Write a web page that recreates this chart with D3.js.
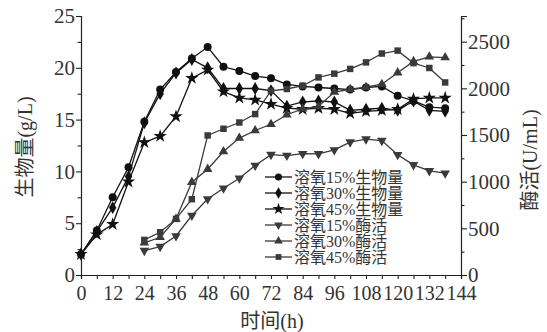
<!DOCTYPE html>
<html>
<head>
<meta charset="utf-8">
<script src="https://cdn.jsdelivr.net/npm/d3@7/dist/d3.min.js"></script>
<style>
  html, body { margin: 0; padding: 0; background: #fff; }
  svg { display: block; }
</style>
</head>
<body>
<svg id="chart" width="547" height="332"></svg>
<script>
// Sampling times (h)
const biomassHours = [0, 6, 12, 18, 24, 30, 36, 42, 48, 54, 60, 66, 72, 78, 84, 90, 96, 102, 108, 114, 120, 126, 132, 138];
const enzymeHours = [24, 30, 36, 42, 48, 54, 60, 66, 72, 78, 84, 90, 96, 102, 108, 114, 120, 126, 132, 138];

// Biomass (g/L) under dissolved oxygen 15%, 30%, 45%
const biomassDO15 = [2.0, 4.3, 7.5, 10.4, 14.8, 17.9, 19.6, 20.9, 22.0, 20.1, 19.7, 19.2, 19.0, 18.4, 18.2, 18.1, 18.0, 17.9, 18.1, 18.2, 17.3, 16.8, 16.2, 16.1];
const biomassDO30 = [2.0, 4.2, 6.5, 9.5, 14.7, 17.5, 19.5, 20.8, 20.0, 18.0, 18.0, 18.0, 17.8, 16.3, 16.7, 16.8, 16.7, 15.9, 16.0, 16.1, 15.9, 16.8, 15.9, 15.8];
const biomassDO45 = [2.0, 3.9, 4.9, 9.0, 12.8, 13.4, 15.3, 19.0, 19.8, 17.7, 17.1, 16.9, 16.5, 16.1, 16.0, 16.1, 16.0, 15.6, 15.8, 15.9, 16.0, 17.0, 17.1, 17.1];

// Enzyme activity (U/mL) under dissolved oxygen 15%, 30%, 45%
const enzymeDO15 = [261, 304, 418, 637, 815, 930, 1037, 1173, 1290, 1280, 1300, 1298, 1340, 1424, 1456, 1440, 1288, 1180, 1116, 1091];
const enzymeDO30 = [345, 404, 600, 995, 1134, 1323, 1467, 1548, 1615, 1717, 1781, 1806, 1960, 1990, 2012, 2044, 2168, 2289, 2338, 2330];
const enzymeDO45 = [376, 458, 601, 812, 1495, 1567, 1634, 1724, 1974, 1993, 2028, 2117, 2157, 2208, 2278, 2373, 2404, 2270, 2218, 2063];

// Axis ticks
const hourTicks = [0, 12, 24, 36, 48, 60, 72, 84, 96, 108, 120, 132, 144];
const biomassTicks = [0, 5, 10, 15, 20, 25];
const enzymeTicks = [0, 500, 1000, 1500, 2000, 2500];

const legendLabels = ["溶氧15%生物量", "溶氧30%生物量", "溶氧45%生物量", "溶氧15%酶活", "溶氧30%酶活", "溶氧45%酶活"];

const FONT = "'Liberation Serif', 'Times New Roman', 'DejaVu Serif', 'Noto Sans CJK SC', serif";
const TEXT_COLOR = "#333";

const svg = d3.select("#chart");
const plotLeft = 81, plotRight = 461, plotTop = 16, plotBottom = 275;

const x = d3.scaleLinear().domain([0, 144]).range([plotLeft, plotRight]);
const yL = d3.scaleLinear().domain([0, 25]).range([plotBottom, plotTop]);
const yR = d3.scaleLinear().domain([0, 2775]).range([plotBottom, plotTop]);

const black = "#111";
const grey = "#3a3a3a";

// Unlabeled minor ticks
function minor(axisFn, scale, values, size) {
  return axisFn(scale).tickValues(values).tickSize(size).tickFormat("");
}

function styleLabels(g, size) {
  g.selectAll("text")
    .attr("font-family", FONT)
    .attr("font-size", size)
    .attr("fill", TEXT_COLOR);
}

// bottom axis
svg.append("g").attr("transform", `translate(0,${plotBottom})`)
  .call(minor(d3.axisBottom, x, d3.range(6, 144, 12), 4));
const gx = svg.append("g").attr("transform", `translate(0,${plotBottom})`)
  .call(d3.axisBottom(x).tickValues(hourTicks).tickSize(4).tickPadding(7));
styleLabels(gx, 20);

// left axis
svg.append("g").attr("transform", `translate(${plotLeft},0)`)
  .call(minor(d3.axisLeft, yL, d3.range(2.5, 25, 5), 3.5));
const gl = svg.append("g").attr("transform", `translate(${plotLeft},0)`)
  .call(d3.axisLeft(yL).tickValues(biomassTicks).tickSize(5).tickPadding(1));
styleLabels(gl, 21);

// right axis
svg.append("g").attr("transform", `translate(${plotRight},0)`)
  .call(minor(d3.axisRight, yR, d3.range(250, 2775, 500), 3.5));
const gr = svg.append("g").attr("transform", `translate(${plotRight},0)`)
  .call(d3.axisRight(yR).tickValues(enzymeTicks).tickFormat(d3.format("d")).tickSize(6).tickPadding(1));
styleLabels(gr, 21);

svg.selectAll(".domain, .tick line").attr("stroke", "#222").attr("stroke-width", 1.1);

// Axis titles
function title(sel) {
  return sel.attr("font-family", FONT).attr("font-size", 20)
    .attr("fill", TEXT_COLOR).attr("text-anchor", "middle");
}
title(svg.append("text")).attr("transform", "translate(32,147) rotate(-90)").text("生物量(g/L)");
title(svg.append("text")).attr("transform", "translate(537,160) rotate(-90)").text("酶活(U/mL)");
title(svg.append("text")).attr("x", 272).attr("y", 328).text("时间(h)");

// Series definitions
const series = [
  { hours: biomassHours, values: biomassDO15, y: yL, symbol: d3.symbolCircle, size: 50, rot: 0, color: black },
  { hours: biomassHours, values: biomassDO30, y: yL, symbol: d3.symbolDiamond, size: 48, rot: 0, color: black },
  { hours: biomassHours, values: biomassDO45, y: yL, symbol: d3.symbolStar, size: 55, rot: 0, color: black },
  { hours: enzymeHours, values: enzymeDO15, y: yR, symbol: d3.symbolTriangle, size: 40, rot: 180, color: grey },
  { hours: enzymeHours, values: enzymeDO30, y: yR, symbol: d3.symbolTriangle, size: 40, rot: 0, color: grey },
  { hours: enzymeHours, values: enzymeDO45, y: yR, symbol: d3.symbolSquare, size: 42, rot: 0, color: grey }
];

const plot = svg.append("g");
series.forEach(s => {
  const pts = s.hours.map((h, i) => [h, s.values[i]]);
  const line = d3.line().x(d => x(d[0])).y(d => s.y(d[1]));
  plot.append("path").datum(pts)
    .attr("d", line).attr("fill", "none")
    .attr("stroke", s.color).attr("stroke-width", 1.3);
  plot.selectAll(null).data(pts).enter().append("path")
    .attr("d", d3.symbol().type(s.symbol).size(s.size))
    .attr("transform", d => `translate(${x(d[0])},${s.y(d[1])}) rotate(${s.rot})`)
    .attr("fill", s.color);
});

// Legend
const legend = svg.append("g");
series.forEach((s, i) => {
  const cy = 177 + i * 16;
  legend.append("line").attr("x1", 265).attr("x2", 292).attr("y1", cy).attr("y2", cy)
    .attr("stroke", s.color).attr("stroke-width", 1.3);
  legend.append("path")
    .attr("d", d3.symbol().type(s.symbol).size(s.size * 0.8))
    .attr("transform", `translate(278.5,${cy}) rotate(${s.rot})`)
    .attr("fill", s.color);
  legend.append("text").attr("x", 294).attr("y", cy).attr("dy", "0.36em")
    .attr("font-family", FONT).attr("font-size", 16).attr("fill", TEXT_COLOR)
    .text(legendLabels[i]);
});
</script>
</body>
</html>
